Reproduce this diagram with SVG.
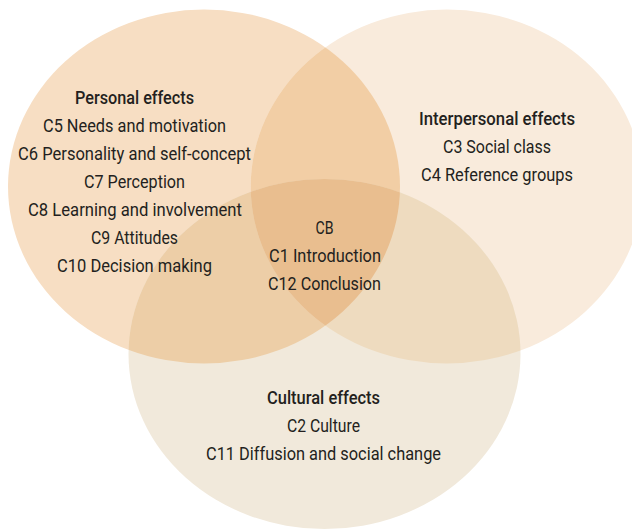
<svg xmlns="http://www.w3.org/2000/svg" width="632" height="530" viewBox="0 0 632 530">
  <style>
    text { font-family: Roboto, "Liberation Sans", sans-serif; font-size: 18px; fill: #231f20; text-anchor: middle; }
    .head { font-weight: 500; }
  </style>
  <defs>
    <clipPath id="clip-personal"><ellipse cx="204" cy="186.5" rx="196" ry="177"/></clipPath>
    <clipPath id="clip-interpersonal"><ellipse cx="446.7" cy="186.5" rx="196" ry="177"/></clipPath>
  </defs>

  <!-- base sets -->
  <g id="personal-set"><ellipse cx="204" cy="186.5" rx="196" ry="177" fill="#f7dec3"/></g>
  <g id="interpersonal-set"><ellipse cx="446.7" cy="186.5" rx="196" ry="177" fill="#f9ebdc"/></g>
  <g id="cultural-set"><ellipse cx="324.5" cy="354" rx="196" ry="175" fill="#f1e9db"/></g>

  <!-- overlaps -->
  <g id="overlaps">
    <ellipse cx="446.7" cy="186.5" rx="196" ry="177" fill="#f2cea5" clip-path="url(#clip-personal)"/>
    <ellipse cx="324.5" cy="354" rx="196" ry="175" fill="#edcea7" clip-path="url(#clip-personal)"/>
    <ellipse cx="324.5" cy="354" rx="196" ry="175" fill="#eedbbf" clip-path="url(#clip-interpersonal)"/>
    <g clip-path="url(#clip-personal)">
      <ellipse cx="324.5" cy="354" rx="196" ry="175" fill="#e9be8f" clip-path="url(#clip-interpersonal)"/>
    </g>
  </g>

  <g id="personal-effects">
    <text class="head" x="134.5" y="104" textLength="119" lengthAdjust="spacingAndGlyphs">Personal effects</text>
    <text x="134.5" y="132" textLength="183" lengthAdjust="spacingAndGlyphs">C5 Needs and motivation</text>
    <text x="134.5" y="160" textLength="233" lengthAdjust="spacingAndGlyphs">C6 Personality and self-concept</text>
    <text x="134.5" y="188" textLength="101" lengthAdjust="spacingAndGlyphs">C7 Perception</text>
    <text x="135" y="216" textLength="214" lengthAdjust="spacingAndGlyphs">C8 Learning and involvement</text>
    <text x="134.5" y="244" textLength="87" lengthAdjust="spacingAndGlyphs">C9 Attitudes</text>
    <text x="134.5" y="272" textLength="155" lengthAdjust="spacingAndGlyphs">C10 Decision making</text>
  </g>

  <g id="interpersonal-effects">
    <text class="head" x="497" y="125" textLength="156" lengthAdjust="spacingAndGlyphs">Interpersonal effects</text>
    <text x="497" y="153" textLength="108" lengthAdjust="spacingAndGlyphs">C3 Social class</text>
    <text x="497" y="181" textLength="152" lengthAdjust="spacingAndGlyphs">C4 Reference groups</text>
  </g>

  <g id="consumer-behaviour">
    <text x="324.5" y="234" textLength="18" lengthAdjust="spacingAndGlyphs">CB</text>
    <text x="325" y="262" textLength="112" lengthAdjust="spacingAndGlyphs">C1 Introduction</text>
    <text x="324.5" y="290" textLength="113" lengthAdjust="spacingAndGlyphs">C12 Conclusion</text>
  </g>

  <g id="cultural-effects">
    <text class="head" x="323.5" y="404" textLength="113" lengthAdjust="spacingAndGlyphs">Cultural effects</text>
    <text x="323.5" y="432" textLength="73" lengthAdjust="spacingAndGlyphs">C2 Culture</text>
    <text x="323.5" y="460" textLength="235" lengthAdjust="spacingAndGlyphs">C11 Diffusion and social change</text>
  </g>
</svg>
